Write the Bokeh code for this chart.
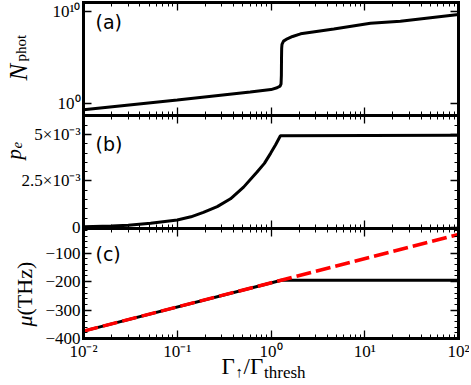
import numpy as np
from bokeh.plotting import figure
from bokeh.models import (LogAxis, LinearAxis, FixedTicker, CustomJSTickFormatter,
                          Label, Range1d, LogScale)
from bokeh.embed import file_html
from bokeh.resources import INLINE

# ---------------- data ----------------
gamma_nphot = [0.01, 0.1, 0.6, 1.0, 1.16, 1.25, 1.28, 1.29, 1.295, 1.30, 1.31,
               1.36, 1.49, 1.7, 2.07, 4.68, 11.5, 24, 100]
nphot = [0.19, 2.2, 16, 30, 47, 71, 126, 1.0e3, 1.0e5, 1.0e6, 2.5e6,
         5.6e6, 1.0e7, 1.8e7, 3.5e7, 1.2e8, 5.0e8, 8.3e8, 4.4e9]

gamma_pe = [0.01, 0.02, 0.03, 0.052, 0.1, 0.14, 0.19, 0.267, 0.37, 0.51, 0.71,
            0.85, 0.99, 1.12, 1.26, 100]
pe = [0.04e-3, 0.08e-3, 0.12e-3, 0.22e-3, 0.40e-3, 0.57e-3, 0.81e-3, 1.12e-3,
      1.54e-3, 2.17e-3, 2.99e-3, 3.45e-3, 3.99e-3, 4.45e-3, 4.94e-3, 4.96e-3]

gamma_mu_free = [0.01, 100]
mu_free = [-374, -34]
gamma_mu = [0.01, 1.29, 100]
mu = [-374, -195, -195]

x_ticks = [0.01, 0.1, 1, 10, 100]
x_tick_labels = ["10\u207b\u00b2", "10\u207b\u00b9", "10\u2070", "10\u00b9", "10\u00b2"]
nphot_ticks = [1, 1e10]
nphot_tick_labels = ["10\u2070", "10\u00b9\u2070"]
pe_ticks = [0, 0.0025, 0.005]
pe_tick_labels = ["0", "2.5\u00d710\u207b\u00b3", "5\u00d710\u207b\u00b3"]
mu_ticks = [-400, -300, -200, -100]
mu_tick_labels = ["\u2212400", "\u2212300", "\u2212200", "\u2212100"]

# axis limits of the three panels
x_lim = (0.01, 100)
a_lim_log10 = (-1.34, 10.95)
b_lim = (-0.06e-3, 6.03e-3)
c_lim = (-400, -13)

x_minor = [m * 10.0 ** k for k in range(-2, 2) for m in range(2, 10)]
b_minor = list(np.arange(0, b_lim[1], 0.0005))
c_minor = list(np.arange(-400, c_lim[1], 20))

# ---------------- layout (pixels) ----------------
HA, HB, HC = 113, 113, 110          # panel heights
TOP, BOT, LB, RB = 2, 45, 83, 11     # space around the stacked panels
W = 469
H = TOP + HA + HB + HC + BOT
BW = W - LB - RB                     # panel width
TICK_FONT = "Liberation Serif"

# ranges stretched so that each panel's limits fill exactly its own band of the canvas
lx = (np.log10(x_lim[1]) - np.log10(x_lim[0])) / BW
x_range = Range1d(10 ** (np.log10(x_lim[0]) - LB * lx), 10 ** (np.log10(x_lim[1]) + RB * lx))
pa_ = (a_lim_log10[1] - a_lim_log10[0]) / HA
a_range = Range1d(10 ** (a_lim_log10[0] - (HB + HC + BOT) * pa_),
                  10 ** (a_lim_log10[1] + TOP * pa_))
pb_ = (b_lim[1] - b_lim[0]) / HB
b_range = Range1d(b_lim[0] - (HC + BOT) * pb_, b_lim[1] + (HA + TOP) * pb_)
pc_ = (c_lim[1] - c_lim[0]) / HC
c_range = Range1d(c_lim[0] - BOT * pc_, c_lim[1] + (HA + HB + TOP) * pc_)
a_bounds = (10 ** a_lim_log10[0], 10 ** a_lim_log10[1])


def fmt(tick_vals, tick_labs, log=False):
    code = """
    let best = 0;
    for (let i = 0; i < tv.length; i++) {
        const a = LOG ? Math.abs(Math.log10(tv[i]) - Math.log10(tick)) : Math.abs(tv[i] - tick);
        const b = LOG ? Math.abs(Math.log10(tv[best]) - Math.log10(tick)) : Math.abs(tv[best] - tick);
        if (a < b) best = i;
    }
    return tl[best];
    """.replace("LOG", "true" if log else "false")
    return CustomJSTickFormatter(args=dict(tv=tick_vals, tl=tick_labs), code=code)


def style_axis(ax, show):
    ax.axis_line_width = 3
    ax.axis_line_color = "black"
    ax.axis_line_cap = "square"
    ax.major_tick_in = 8
    ax.major_tick_out = 0
    ax.minor_tick_in = 4
    ax.minor_tick_out = 0
    ax.major_tick_line_width = 1.3
    ax.minor_tick_line_width = 1
    ax.major_tick_line_color = "black"
    ax.minor_tick_line_color = "black"
    ax.major_label_text_font = TICK_FONT
    ax.major_label_text_font_size = "17px"
    ax.major_label_standoff = 3
    ax.major_label_text_color = "black" if show else None
    return ax


p = figure(width=W, height=H, x_axis_type="log", y_axis_type="linear",
           x_axis_location=None, y_axis_location=None,
           x_range=x_range, y_range=c_range,
           output_backend="svg", toolbar_location=None,
           min_border_left=0, min_border_right=0,
           min_border_top=0, min_border_bottom=0)
p.extra_y_ranges = {"a": a_range, "b": b_range}
p.extra_y_scales = {"a": LogScale()}
p.grid.visible = False
p.outline_line_color = None
p.background_fill_color = "white"
p.border_fill_color = "white"

# ---------------- data lines ----------------
p.line(gamma_nphot, nphot, line_color="black", line_width=3, y_range_name="a")
p.line(gamma_pe, pe, line_color="black", line_width=3, y_range_name="b")
p.line(gamma_mu, mu, line_color="black", line_width=3)
p.line(gamma_mu_free, mu_free, line_color="#ff0000", line_width=3.5, line_dash="15 5")

# ---------------- axes (drawn at fixed positions, bounded to each panel) ----------------
xt = lambda: FixedTicker(ticks=x_ticks, minor_ticks=x_minor)
at = lambda: FixedTicker(ticks=nphot_ticks, minor_ticks=[])
bt = lambda: FixedTicker(ticks=pe_ticks, minor_ticks=b_minor)
ct = lambda: FixedTicker(ticks=mu_ticks, minor_ticks=c_minor)

# left axes with labels
p.add_layout(style_axis(LogAxis(y_range_name="a", ticker=at(), fixed_location=x_lim[0],
                                bounds=a_bounds,
                                formatter=fmt(nphot_ticks, nphot_tick_labels, log=True)), True), "left")
p.add_layout(style_axis(LinearAxis(y_range_name="b", ticker=bt(), fixed_location=x_lim[0],
                                   bounds=b_lim, formatter=fmt(pe_ticks, pe_tick_labels)), True), "left")
p.add_layout(style_axis(LinearAxis(ticker=ct(), fixed_location=x_lim[0], bounds=c_lim,
                                   formatter=fmt(mu_ticks, mu_tick_labels)), True), "left")
# right mirror axes
p.add_layout(style_axis(LogAxis(y_range_name="a", ticker=at(), fixed_location=x_lim[1],
                                bounds=a_bounds), False), "right")
p.add_layout(style_axis(LinearAxis(y_range_name="b", ticker=bt(), fixed_location=x_lim[1],
                                   bounds=b_lim), False), "right")
p.add_layout(style_axis(LinearAxis(ticker=ct(), fixed_location=x_lim[1], bounds=c_lim), False), "right")
# bottom axis with labels
p.add_layout(style_axis(LogAxis(ticker=xt(), fixed_location=c_lim[0], bounds=x_lim,
                                formatter=fmt(x_ticks, x_tick_labels, log=True)), True), "below")
# top axis and the panel separators (ticks on both sides)
p.add_layout(style_axis(LogAxis(ticker=xt(), y_range_name="a", fixed_location=a_bounds[1],
                                bounds=x_lim), False), "above")
p.add_layout(style_axis(LogAxis(ticker=xt(), y_range_name="b", fixed_location=b_lim[1],
                                bounds=x_lim), False), "below")
p.add_layout(style_axis(LogAxis(ticker=xt(), y_range_name="b", fixed_location=b_lim[1],
                                bounds=x_lim), False), "above")
p.add_layout(style_axis(LogAxis(ticker=xt(), y_range_name="b", fixed_location=b_lim[0],
                                bounds=x_lim), False), "below")
p.add_layout(style_axis(LogAxis(ticker=xt(), fixed_location=c_lim[1], bounds=x_lim), False), "above")


# ---------------- texts (screen px from the canvas' bottom-left) ----------------
def lab(text, x, y, size, angle=0.0, style="normal", font="Liberation Serif",
        baseline="alphabetic"):
    p.add_layout(Label(x=x, y=y, x_units="screen", y_units="screen", text=text,
                       text_font=font, text_font_size=f"{size}px",
                       text_font_style=style, angle=angle, text_align="left",
                       text_baseline=baseline, text_color="black"))


HALF_PI = np.pi / 2
lab("(a)", 95, H - 10, 19, font="DejaVu Sans", baseline="top")
lab("(b)", 95, H - 132, 19, font="DejaVu Sans", baseline="top")
lab("(c)", 95, H - 242, 19, font="DejaVu Sans", baseline="top")

lab("N", 18, H - 80, 25, angle=HALF_PI, style="italic")
lab("phot", 20, H - 61, 15, angle=HALF_PI)
lab("p", 13, H - 159, 21, angle=HALF_PI, style="italic")
lab("e", 16, H - 148, 15, angle=HALF_PI, style="italic")
lab("\u03bc", 24, H - 326, 22, angle=HALF_PI, style="italic")
lab("(THz)", 24, H - 315, 22, angle=HALF_PI)

# x-axis title, placed by the top of each piece
lab("\u0393", 221, H - 353, 23, baseline="top")
lab("\u2191", 235, H - 363, 15, baseline="top")
lab("/\u0393", 243, H - 353, 23, baseline="top")
lab("thresh", 263.5, H - 362, 17, baseline="top")

open("out.html", "w").write(file_html(p, INLINE))
